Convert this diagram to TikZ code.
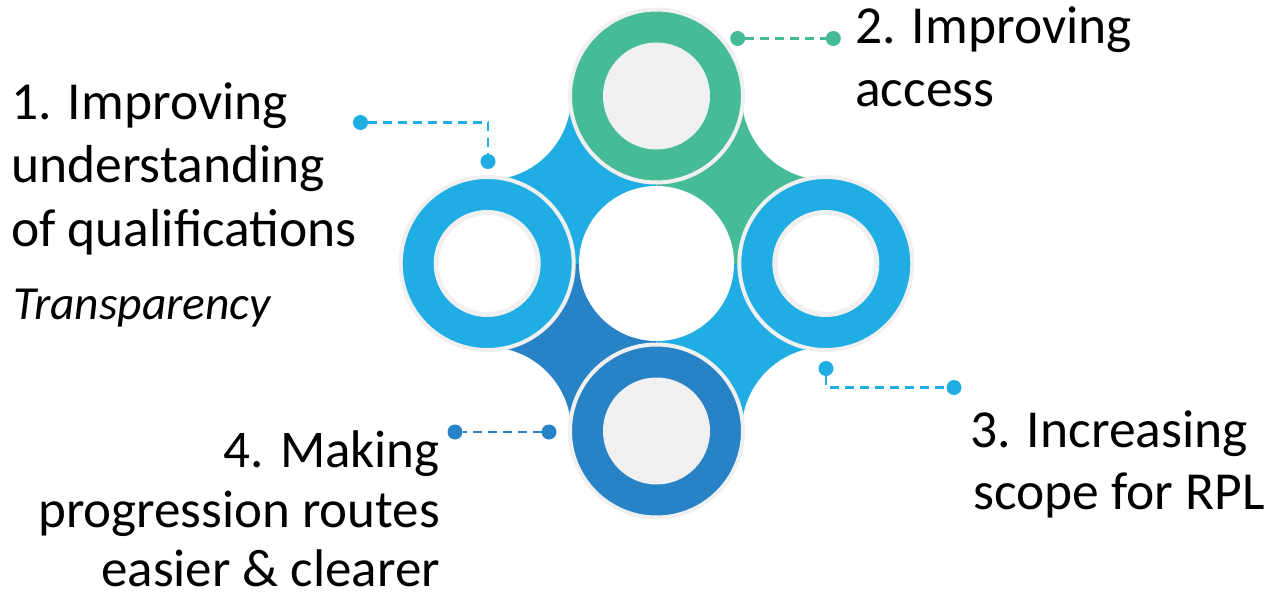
\documentclass[tikz,border=0pt]{standalone}
\usepackage{fontspec}
\setmainfont{Carlito}
\definecolor{cblue}{HTML}{1FADE4}
\definecolor{cgreen}{HTML}{45BB97}
\definecolor{cdark}{HTML}{2883C6}
\definecolor{cgray}{HTML}{F0F0F0}
\begin{document}
\begin{tikzpicture}[x=1pt,y=-1pt,
  ringnode/.style={circle, fill=#1, draw=cgray, line width=4pt, minimum size=173pt, inner sep=0pt, outer sep=0pt},
  holefull/.style={circle, fill=cgray, minimum size=107pt, inner sep=0pt},
  holeopen/.style={circle, fill=white, draw=cgray, line width=5pt, minimum size=102pt, inner sep=0pt},
  cdot/.style={circle, fill=#1, minimum size=15pt, inner sep=0pt, outer sep=0pt},
  conn/.style={draw=#1, line width=2.5pt, dash pattern=on 9pt off 6pt},
  lbl/.style={inner sep=0pt, font=\fontsize{53.5}{63}\selectfont, anchor=base west},
  lblr/.style={inner sep=0pt, font=\fontsize{53}{63}\selectfont, anchor=base east}
]
\useasboundingbox (0,0) rectangle (1276,599);
% centres
\coordinate (C) at (656.5,263.5);
\coordinate (L) at (487.2,263.5);
\coordinate (R) at (825.8,263.5);
\coordinate (T) at (656.5,96);
\coordinate (B) at (656.5,431);
% wedges
\begin{scope}
  \clip (487.2,96) rectangle (656.5,263.5);
  \fill[cblue] (487.2,96) rectangle (656.5,263.5);
  \fill[white] (487.2,96) circle (84pt);
\end{scope}
\begin{scope}
  \clip (656.5,96) rectangle (825.8,263.5);
  \fill[cgreen] (656.5,96) rectangle (825.8,263.5);
  \fill[white] (825.8,96) circle (84pt);
\end{scope}
\begin{scope}
  \clip (656.5,263.5) rectangle (825.8,431);
  \fill[cblue] (656.5,263.5) rectangle (825.8,431);
  \fill[white] (825.8,431) circle (84pt);
\end{scope}
\begin{scope}
  \clip (487.2,263.5) rectangle (656.5,431);
  \fill[cdark] (487.2,263.5) rectangle (656.5,431);
  \fill[white] (487.2,431) circle (84pt);
\end{scope}
% rings
\node[ringnode=cblue] (ring1) at (L) {};
\node[holeopen] (hole1) at (L) {};
\node[ringnode=cgreen] (ring2) at (T) {};
\node[holefull] (hole2) at (T) {};
\node[ringnode=cblue] (ring3) at (R) {};
\node[holeopen] (hole3) at (R) {};
\node[ringnode=cdark] (ring4) at (B) {};
\node[holefull] (hole4) at (B) {};
\node[circle, fill=white, minimum size=155pt, inner sep=0pt] (centre) at (C) {};
% connectors
\node[cdot=cblue] (d1a) at (360.5,122.5) {};
\node[cdot=cblue] (d1b) at (488,161.5) {};
\draw[conn=cblue] (d1a) -| (d1b);
\node[cdot=cgreen] (d2a) at (737.7,38.5) {};
\node[cdot=cgreen] (d2b) at (833.3,38.5) {};
\draw[conn=cgreen] (d2a) -- (d2b);
\node[cdot=cblue] (d3a) at (826,368.5) {};
\node[cdot=cblue] (d3b) at (954,387.5) {};
\draw[conn=cblue] (d3a) |- (d3b);
\node[cdot=cdark] (d4a) at (549,432) {};
\node[cdot=cdark] (d4b) at (455,432) {};
\draw[conn=cdark] (d4a) -- (d4b);
% labels
\node[lbl] (t1a) at (11,120) {1. Improving};
\node[lbl] (t1b) at (11,182.5) {understanding};
\node[lbl] (t1c) at (11,246) {of qualifications};
\node[inner sep=0pt, anchor=base west, font=\fontsize{47.5}{55}\selectfont\itshape] (t1d) at (13,319) {Transparency};
\node[lbl] (t2a) at (855,43.5) {2. Improving};
\node[lbl] (t2b) at (855,107) {access};
\node[lbl] (t3a) at (970,447) {3. Increasing};
\node[lbl] (t3b) at (973,509) {scope for RPL};
\node[lblr] (t4a) at (440,467) {4. Making};
\node[lblr] (t4b) at (440,527) {progression routes};
\node[lblr] (t4c) at (440,586) {easier \& clearer};
\end{tikzpicture}
\end{document}
